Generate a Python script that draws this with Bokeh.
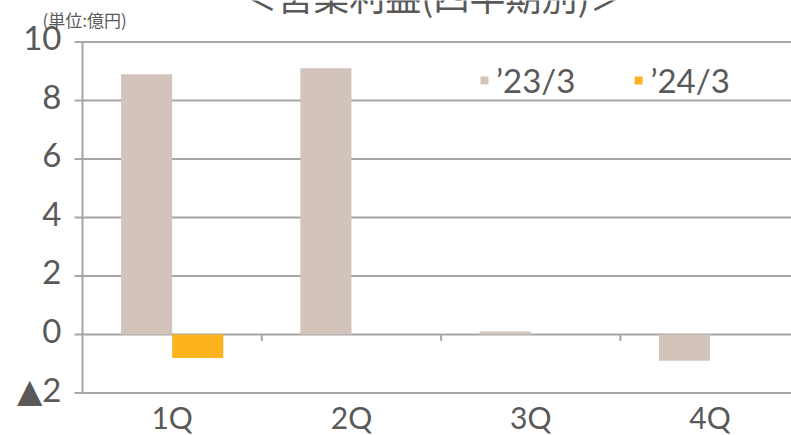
from bokeh.plotting import figure
from bokeh.models import Range1d, Label, Legend, LegendItem
from bokeh.core.properties import value
from bokeh.embed import file_html
from bokeh.resources import INLINE

# Quarterly operating profit (unit: 100 million yen)
quarters = ["1Q", "2Q", "3Q", "4Q"]
fy23 = [8.9, 9.1, 0.1, -0.9]
fy24 = [-0.8, None, None, None]
series_labels = ["’23/3", "’24/3"]
y_ticks = [-2, 0, 2, 4, 6, 8, 10]
y_tick_labels = ["▲2", "0", "2", "4", "6", "8", "10"]

title_text = "＜営業利益(四半期別)＞"
unit_text = "(単位:億円)"

C23 = "#d3c4bb"
C24 = "#fdb31e"
GRID = "#a6a6a6"
TXT = "#595959"
FONT = "Lato, DejaVu Sans"
JFONT = "Noto Sans CJK JP"

W, H = 791, 435
LEFT = 82             # pixel column of the value axis
SLOT = 179.3          # px per quarter
PX_PER_UNIT = 29.25   # px per 1 unit on the value axis
PLOT_TOP, PLOT_BOTTOM = 41.5, 392.5   # pixel rows of 10 and -2


def px_x(px):
    return (px - LEFT) / SLOT


def px_y(py):
    return 10 - (py - PLOT_TOP) / PX_PER_UNIT


x_lo, x_hi = px_x(0), px_x(W)
y_lo, y_hi = px_y(H), px_y(0)

p = figure(width=W, height=H, output_backend="svg", toolbar_location=None,
           x_range=Range1d(x_lo, x_hi), y_range=Range1d(y_lo, y_hi),
           min_border=0, outline_line_color=None,
           background_fill_color="white", border_fill_color="white")
p.xaxis.visible = False
p.yaxis.visible = False
p.xgrid.visible = False
p.ygrid.visible = False

# horizontal gridlines (the one at -2 doubles as the base line)
n = len(y_ticks)
p.segment(x0=[0] * n, y0=y_ticks, x1=[x_hi] * n, y1=y_ticks,
          line_color=GRID, line_width=2)
# value axis line, its outward ticks and labels
p.segment(x0=[0], y0=[min(y_ticks)], x1=[0], y1=[max(y_ticks)],
          line_color=GRID, line_width=2)
p.segment(x0=[px_x(LEFT - 8)] * n, y0=y_ticks, x1=[0] * n, y1=y_ticks,
          line_color=GRID, line_width=2)
lift = 4 / PX_PER_UNIT
p.text(x=[px_x(61)] * n, y=[t + lift for t in y_ticks], text=y_tick_labels,
       text_align="right", text_baseline="middle",
       text_font=value(FONT), text_font_size="33px", text_color=TXT)

xs = [i + 0.5 for i in range(len(quarters))]
bw = 0.285
x23 = [x - bw / 2 for x in xs]
x24 = [x + bw / 2 for x in xs]

r23 = p.vbar(x=x23, top=fy23, bottom=0, width=bw, fill_color=C23, line_color=None)
v24 = [(x, v) for x, v in zip(x24, fy24) if v is not None]
r24 = p.vbar(x=[a for a, _ in v24], top=[b for _, b in v24], bottom=0, width=bw,
             fill_color=C24, line_color=None)

# small separators between quarters hanging below the zero line
seps = [float(i) for i in range(1, len(quarters))]
p.segment(x0=seps, y0=[0] * len(seps), x1=seps, y1=[-0.22] * len(seps),
          line_color=GRID, line_width=2)

# quarter names under the base line
p.text(x=xs, y=[px_y(416.5)] * len(xs), text=quarters,
       text_align="center", text_baseline="middle",
       text_font=value(FONT), text_font_size="30px", text_color=TXT)

legend = Legend(items=[LegendItem(label=series_labels[0], renderers=[r23]),
                       LegendItem(label=series_labels[1], renderers=[r24])],
                orientation="horizontal", location=(479, 335),
                background_fill_alpha=0, border_line_color=None,
                padding=0, margin=0, spacing=58, label_standoff=7,
                glyph_width=10, glyph_height=10,
                label_text_font=FONT, label_text_font_size="33px",
                label_text_color=TXT)
p.add_layout(legend, "center")

p.add_layout(Label(x=px_x(433), y=px_y(-6), text=title_text,
                   text_align="center", text_baseline="middle",
                   text_font=JFONT, text_font_size="36px", text_color=TXT))
p.add_layout(Label(x=px_x(42), y=px_y(19), text=unit_text,
                   text_align="left", text_baseline="middle",
                   text_font=JFONT, text_font_size="17px", text_color=TXT))

open("out.html", "w").write(file_html(p, INLINE))
